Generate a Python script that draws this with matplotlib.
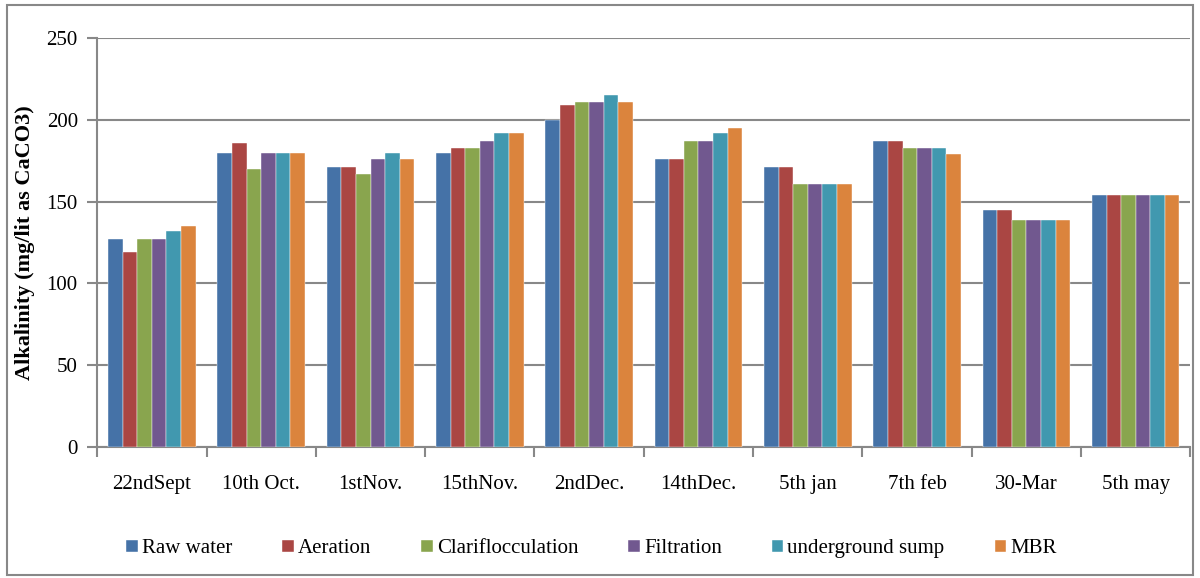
import numpy as np
import matplotlib.pyplot as plt
from matplotlib.patches import Rectangle

# sampling dates and treatment stages
dates = ['22ndSept', '10th Oct.', '1stNov.', '15thNov.', '2ndDec.', '14thDec.',
         '5th jan', '7th feb', '30-Mar', '5th may']
stages = ['Raw water', 'Aeration', 'Clariflocculation', 'Filtration', 'underground sump', 'MBR']

raw_water = [127, 180, 171, 180, 200, 176, 171, 187, 145, 154]
aeration = [119, 186, 171, 183, 209, 176, 171, 187, 145, 154]
clarifloc = [127, 170, 167, 183, 211, 187, 161, 183, 139, 154]
filtration = [127, 180, 176, 187, 211, 187, 161, 183, 139, 154]
sump = [132, 180, 180, 192, 215, 192, 161, 183, 139, 154]
mbr = [135, 180, 176, 192, 211, 195, 161, 179, 139, 154]

series = [raw_water, aeration, clarifloc, filtration, sump, mbr]
colors = ['#4572A7', '#AA4643', '#89A54E', '#71588F', '#4198AF', '#DB843D']

plt.rcParams['font.family'] = ['Liberation Serif', 'DejaVu Serif']

fig = plt.figure(figsize=(12, 5.78), dpi=100)
ax = fig.add_axes([0.081, 0.2266, 0.911, 0.7076])

x = np.arange(len(dates))
w = 0.8 / len(series)
for i, (vals, col) in enumerate(zip(series, colors)):
    ax.bar(x - 0.4 + w * (i + 0.5), vals, w, color=col, label=stages[i],
           edgecolor='white', linewidth=0.3, zorder=3)

ax.set_xlim(-0.5, len(dates) - 0.5)
ax.set_ylim(0, 250)
ax.set_yticks(range(0, 251, 50))
ax.yaxis.grid(True, color='#888888', linewidth=1.5, zorder=0)

ax.set_xticks(x)
ax.set_xticklabels(dates, fontsize=15)
ax.tick_params(axis='x', length=0, pad=20)
ax.set_xticks(np.arange(-0.5, len(dates)), minor=True)
ax.tick_params(axis='x', which='minor', length=7, color='#888888', width=1.5)
ax.tick_params(axis='y', labelsize=15, length=7, color='#888888', width=1.5, pad=7)

for s in ['top', 'right']:
    ax.spines[s].set_visible(False)
for s in ['left', 'bottom']:
    ax.spines[s].set_color('#888888')
    ax.spines[s].set_linewidth(1.5)

ax.set_ylabel('Alkalinity (mg/lit as CaCO3)', fontsize=16, fontweight='bold', labelpad=8)

ax.legend(loc='center', bbox_to_anchor=(0.452, -0.249), ncol=6, frameon=False,
          fontsize=15, handlelength=0.55, handleheight=0.55, handletextpad=0.2,
          columnspacing=2.4)

# outer chart border
fig.patches.append(Rectangle((0.006, 0.006), 0.988, 0.985, transform=fig.transFigure,
                             fill=False, edgecolor='#888888', linewidth=1.5))

fig.savefig('out.png', dpi=100)
